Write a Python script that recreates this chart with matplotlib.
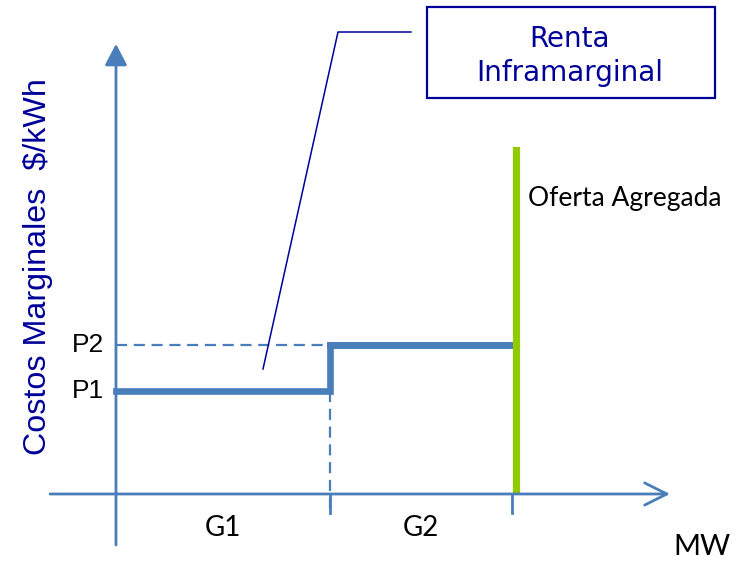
import matplotlib
matplotlib.use("Agg")
import matplotlib.pyplot as plt
from matplotlib.patches import Rectangle
from matplotlib.lines import Line2D

# supply curve data (x in MW units, G1 capacity = 1)
g_edges  = [0.0, 1.0, 1.85]        # start of G1, end of G1, end of G2
prices   = [1.0, 1.45]             # P1, P2
p_labels = ["P1", "P2"]
g_labels = ["G1", "G2"]
oferta_x = 1.87
oferta_y = [0.04, 3.34]

blue  = "#4A7EBB"
navy  = "#000099"
green = "#92CA00"

fig = plt.figure(figsize=(7.44, 5.63), dpi=100)
ax = fig.add_axes([0, 0, 1, 1])
ax.set_xlim(-0.542, 2.935)
ax.set_ylim(-0.670, 4.796)
ax.set_axis_off()

# axes with arrows
ax.annotate("", xy=(0, 4.37), xytext=(0, -0.495),
            arrowprops=dict(arrowstyle="-|>,head_length=0.65,head_width=0.34",
                            lw=2, color=blue, shrinkA=0, shrinkB=0, mutation_scale=20))
ax.annotate("", xy=(2.589, 0), xytext=(-0.308, 0),
            arrowprops=dict(arrowstyle="->,head_length=0.8,head_width=0.4",
                            lw=2, color=blue, shrinkA=0, shrinkB=0, mutation_scale=20))

# ticks under the x axis
for gx in g_edges[1:]:
    ax.plot([gx, gx], [0, -0.18], color=blue, lw=2)

# dashed guide lines
ax.plot([g_edges[0], g_edges[1]], [prices[1], prices[1]], color=blue, lw=1.6,
        dashes=(5, 3))
ax.plot([g_edges[1], g_edges[1]], [prices[0], -0.18], color=blue, lw=1.6,
        dashes=(5, 3))

# step supply curve
ax.step(g_edges, [prices[0], prices[1], prices[1]], where="post",
        color=blue, lw=4.8, solid_joinstyle="miter")
ax.plot([g_edges[1], g_edges[2]], [prices[1], prices[1]], color=blue, lw=4.8)

# aggregate offer
ax.plot([oferta_x, oferta_x], oferta_y, color=green, lw=5.2)
ax.text(1.925, 2.864, "Oferta Agregada", fontsize=19, family="Lato",
        ha="left", va="center", color="black")

# labels
for p, lab in zip(prices, p_labels):
    ax.text(-0.056, p, lab, fontsize=19, family="Liberation Sans",
            ha="right", va="center", color="black")
for i, lab in enumerate(g_labels):
    xc = (g_edges[i] + g_edges[i + 1]) / 2
    ax.text(xc, -0.33, lab, fontsize=20, family="Lato",
            ha="center", va="center", color="black")
ax.text(2.738, -0.515, "MW", fontsize=21, family="Lato",
        ha="center", va="center", color="black")

ax.text(-0.364, 2.204, "Costos Marginales  $/kWh", fontsize=23.2,
        family="Liberation Sans", rotation=90, ha="center", va="center", color=navy)

# callout box
fig.patches.append(Rectangle((427 / 744, 1 - 98 / 563), 288 / 744, 91 / 563,
                             transform=fig.transFigure, fill=False,
                             edgecolor=navy, lw=1.6))
fig.text(570 / 744, 1 - 56 / 563, "Renta\nInframarginal", fontsize=20,
         family="DejaVu Sans", ha="center", va="center", color=navy,
         linespacing=1.3)
fig.lines.append(Line2D([263 / 744, 338 / 744, 411 / 744],
                        [1 - 369 / 563, 1 - 32 / 563, 1 - 32 / 563],
                        transform=fig.transFigure, color=navy, lw=1.1))

plt.savefig("out.png", dpi=100)
